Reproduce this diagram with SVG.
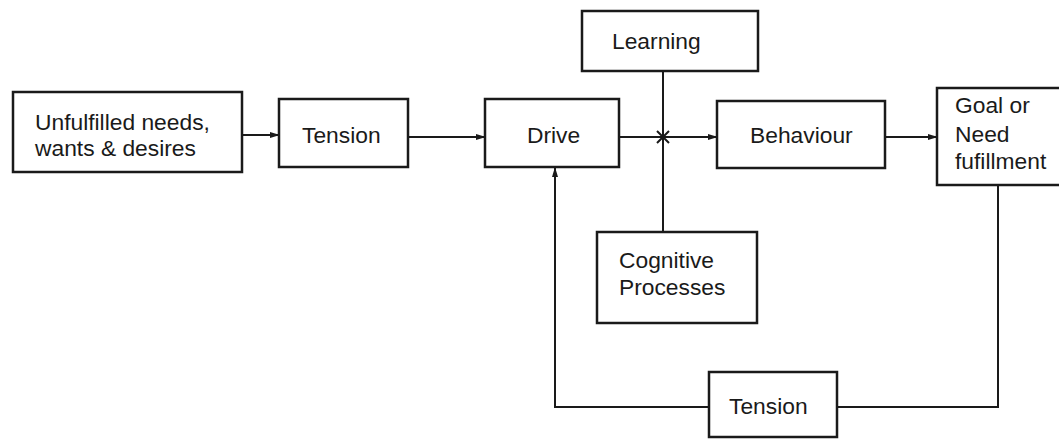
<svg xmlns="http://www.w3.org/2000/svg" width="1059" height="439" viewBox="0 0 1059 439">
<defs>
<marker id="arr" markerWidth="10" markerHeight="6" refX="9" refY="3" orient="auto" markerUnits="userSpaceOnUse">
<path d="M0,0 L10,3 L0,6 Z" fill="#1a1a1a"/>
</marker>
<style>
.box{fill:#fff;stroke:#1a1a1a;stroke-width:2.5}
.lbl{font-family:"Liberation Sans",Arial,sans-serif;font-size:22.8px;fill:#1a1a1a}
.ln{fill:none;stroke:#1a1a1a;stroke-width:2}
</style>
</defs>
<rect width="1059" height="439" fill="#fff"/>
<g id="connectors">
<line class="ln" x1="242" y1="135" x2="279" y2="135" marker-end="url(#arr)"/>
<line class="ln" x1="408" y1="137" x2="485" y2="137" marker-end="url(#arr)"/>
<line class="ln" x1="619" y1="137" x2="717" y2="137" marker-end="url(#arr)"/>
<line class="ln" x1="663" y1="71" x2="663" y2="232"/>
<path class="ln" d="M657,131 L669,143 M669,131 L657,143" stroke-width="3"/>
<line class="ln" x1="885" y1="137" x2="937" y2="137" marker-end="url(#arr)"/>
<path class="ln" d="M998,185 L998,407 L837,407"/>
<path class="ln" d="M709,407 L555,407 L555,168" marker-end="url(#arr)"/>
</g>
<g id="unfulfilled">
<rect class="box" x="13" y="92" width="229" height="80"/>
<text class="lbl" x="35" y="130">Unfulfilled needs,</text>
<text class="lbl" x="35" y="156">wants &amp; desires</text>
</g>
<g id="tension1">
<rect class="box" x="279" y="99" width="129" height="68"/>
<text class="lbl" x="302" y="143">Tension</text>
</g>
<g id="drive">
<rect class="box" x="485" y="99" width="134" height="68"/>
<text class="lbl" x="527" y="143">Drive</text>
</g>
<g id="learning">
<rect class="box" x="582" y="11" width="176" height="60"/>
<text class="lbl" x="612" y="49">Learning</text>
</g>
<g id="cognitive">
<rect class="box" x="597" y="232" width="160" height="91"/>
<text class="lbl" x="619" y="268">Cognitive</text>
<text class="lbl" x="619" y="295">Processes</text>
</g>
<g id="behaviour">
<rect class="box" x="717" y="101" width="168" height="67"/>
<text class="lbl" x="750" y="143">Behaviour</text>
</g>
<g id="goal">
<rect class="box" x="937" y="88" width="130" height="97"/>
<text class="lbl" x="955" y="113">Goal or</text>
<text class="lbl" x="955" y="142">Need</text>
<text class="lbl" x="955" y="169">fufillment</text>
</g>
<g id="tension2">
<rect class="box" x="709" y="372" width="128" height="65"/>
<text class="lbl" x="729" y="414">Tension</text>
</g>
</svg>
